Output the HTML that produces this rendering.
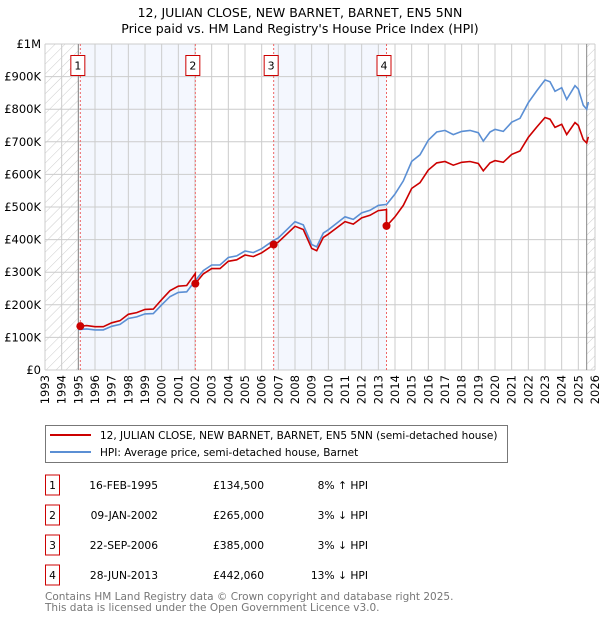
<!DOCTYPE html>
<html><head><meta charset="utf-8"><style>
body{margin:0;background:#fff;font-family:"DejaVu Sans","Liberation Sans",sans-serif;}
svg{display:block}
</style></head><body>
<svg id="c" width="600" height="620" font-family="DejaVu Sans, Liberation Sans, sans-serif">
<defs><pattern id="hatch" width="7" height="7" patternUnits="userSpaceOnUse" patternTransform="rotate(45)"><line x1="0" y1="0" x2="0" y2="7" stroke="#ccc" stroke-width="1"/></pattern></defs>
<text x="300" y="17" text-anchor="middle" font-size="12.5">12, JULIAN CLOSE, NEW BARNET, BARNET, EN5 5NN</text>
<text x="300" y="33" text-anchor="middle" font-size="12.5">Price paid vs. HM Land Registry's House Price Index (HPI)</text>
<g id="plot"></g>
<g>
<rect x="45.5" y="425.5" width="462" height="37" fill="#fff" stroke="#777"/>
<line x1="50" y1="435" x2="91" y2="435" stroke="#cc0000" stroke-width="2"/>
<text x="100" y="439" font-size="10.5">12, JULIAN CLOSE, NEW BARNET, BARNET, EN5 5NN (semi-detached house)</text>
<line x1="50" y1="452" x2="91" y2="452" stroke="#5b8fd4" stroke-width="2"/>
<text x="100" y="456" font-size="10.5">HPI: Average price, semi-detached house, Barnet</text>
</g>
<g id="table" font-size="10.7"></g>
<text x="45" y="600" font-size="10.5" fill="#777">Contains HM Land Registry data © Crown copyright and database right 2025.</text>
<text x="45" y="611" font-size="10.5" fill="#777">This data is licensed under the Open Government Licence v3.0.</text>
</svg>
<script>
const hpiYears=[1995.0,1995.5,1996.0,1996.5,1997.0,1997.5,1998.0,1998.5,1999.0,1999.5,2000.0,2000.5,2001.0,2001.5,2002.0,2002.5,2003.0,2003.5,2004.0,2004.5,2005.0,2005.5,2006.0,2006.7,2007.0,2007.5,2008.0,2008.5,2009.0,2009.3,2009.7,2010.0,2010.5,2011.0,2011.5,2012.0,2012.5,2013.0,2013.5,2014.0,2014.5,2015.0,2015.5,2016.0,2016.5,2017.0,2017.5,2018.0,2018.5,2019.0,2019.3,2019.7,2020.0,2020.5,2021.0,2021.5,2022.0,2022.5,2023.0,2023.3,2023.6,2024.0,2024.3,2024.8,2025.0,2025.3,2025.5,2025.6];
const hpiValues=[124,126,123,123,134,140,158,163,172,173,200,225,238,240,273,305,322,322,345,350,365,360,372,397,405,430,455,445,385,378,420,430,450,470,462,482,490,505,508,540,580,640,660,705,730,735,722,732,735,728,702,730,738,732,760,772,820,856,890,884,855,866,830,872,862,812,800,822];
const saleYears=[1995.12,2002.02,2006.72,2013.49];
const salePrices=[134500,265000,385000,442060];
const saleLabels=["1","2","3","4"];
const saleDates=["16-FEB-1995","09-JAN-2002","22-SEP-2006","28-JUN-2013"];
const salePriceText=["£134,500","£265,000","£385,000","£442,060"];
const saleHpiText=["8% ↑ HPI","3% ↓ HPI","3% ↓ HPI","13% ↓ HPI"];
const yTicks=[0,100,200,300,400,500,600,700,800,900,1000];
const yTickLabels=["£0","£100K","£200K","£300K","£400K","£500K","£600K","£700K","£800K","£900K","£1M"];
const xYears=[1993,1994,1995,1996,1997,1998,1999,2000,2001,2002,2003,2004,2005,2006,2007,2008,2009,2010,2011,2012,2013,2014,2015,2016,2017,2018,2019,2020,2021,2022,2023,2024,2025,2026];

const X0=45,X1=595,Y0=370,Y1=44;
const sx=y=>X0+(y-1993)/33*(X1-X0);
const sy=v=>Y0-v/1000*(Y0-Y1);
const NS="http://www.w3.org/2000/svg";
const plot=document.getElementById('plot');
function mk(tag,attrs,parent){const e=document.createElementNS(NS,tag);for(const k in attrs)e.setAttribute(k,attrs[k]);(parent||plot).appendChild(e);return e;}
function hpiAt(t){for(let i=0;i<hpiYears.length-1;i++){if(t<=hpiYears[i+1]){const f=(t-hpiYears[i])/(hpiYears[i+1]-hpiYears[i]);return hpiValues[i]+f*(hpiValues[i+1]-hpiValues[i]);}}return hpiValues[hpiValues.length-1];}

let r;
r=mk('rect',{x:sx(saleYears[0]),y:Y1,width:sx(saleYears[1])-sx(saleYears[0]),height:Y0-Y1,fill:'#f4f7fe'});

r=mk('rect',{x:sx(saleYears[2]),y:Y1,width:sx(saleYears[3])-sx(saleYears[2]),height:Y0-Y1,fill:'#f4f7fe'});

r=mk('rect',{x:X0,y:Y1,width:sx(1995)-X0,height:Y0-Y1,fill:'url(#hatch)'});

r=mk('rect',{x:sx(2025.5),y:Y1,width:X1-sx(2025.5),height:Y0-Y1,fill:'url(#hatch)'});

yTicks.forEach((v,i)=>{const l=mk('line',{x1:X0,x2:X1,y1:sy(v),y2:sy(v),stroke:'#ccc'});

const t=mk('text',{x:X0-4,y:sy(v)+4,'text-anchor':'end','font-size':'11.5'});t.textContent=yTickLabels[i];
});
xYears.forEach(y=>{const l=mk('line',{x1:sx(y),x2:sx(y),y1:Y1,y2:Y0,stroke:'#ccc'});

const t=mk('text',{x:0,y:0,'text-anchor':'end','font-size':'11.5',transform:`translate(${sx(y)+4},${Y0+5}) rotate(-90)`});t.textContent=y;
});
let l=mk('line',{x1:sx(1995),x2:sx(1995),y1:Y1,y2:Y0,stroke:'#888'});

l=mk('line',{x1:sx(2025.5),x2:sx(2025.5),y1:Y1,y2:Y0,stroke:'#888'});

saleYears.forEach((s,i)=>{const d=mk('line',{x1:sx(s),x2:sx(s),y1:Y1,y2:Y0,stroke:'#e66','stroke-dasharray':'2,2'});

const b=mk('rect',{x:sx(s)-9.5,y:55.5,width:14,height:20,fill:'#fff',stroke:'#c00'});

const t=mk('text',{x:sx(s)-2.5,y:69.5,'text-anchor':'middle','font-size':'11'});t.textContent=saleLabels[i];
});
let p='';hpiYears.forEach((y,i)=>{p+=(i?'L':'M')+sx(y).toFixed(1)+','+sy(hpiValues[i]).toFixed(1);});
const hl=mk('path',{d:p,fill:'none',stroke:'#5b8fd4','stroke-width':'1.6'});

let pts=[];
for(let k=0;k<saleYears.length;k++){const ratio=salePrices[k]/1000/hpiAt(saleYears[k]);const end=k<saleYears.length-1?saleYears[k+1]:2025.6;
pts.push([saleYears[k],salePrices[k]/1000]);
hpiYears.forEach((y,i)=>{if(y>saleYears[k]&&y<end)pts.push([y,hpiValues[i]*ratio]);});
pts.push([end,hpiAt(end)*ratio]);}
p='';pts.forEach((q,i)=>{p+=(i?'L':'M')+sx(q[0]).toFixed(1)+','+sy(q[1]).toFixed(1);});
const pl=mk('path',{d:p,fill:'none',stroke:'#cc0000','stroke-width':'1.6'});

saleYears.forEach((s,i)=>{const c=mk('circle',{cx:sx(s),cy:sy(salePrices[i]/1000),r:4,fill:'#cc0000'});
});
const tb=document.getElementById('table');
saleLabels.forEach((lab,i)=>{const y=485+i*30;
const b=mk('rect',{x:45.5,y:y-10,width:14,height:20,fill:'#fff',stroke:'#c00'},tb);

let t=mk('text',{x:52.5,y:y+4,'text-anchor':'middle'},tb);t.textContent=lab;

t=mk('text',{x:158,y:y+4,'text-anchor':'end'},tb);t.textContent=saleDates[i];

t=mk('text',{x:264,y:y+4,'text-anchor':'end'},tb);t.textContent=salePriceText[i];

t=mk('text',{x:368,y:y+4,'text-anchor':'end'},tb);t.textContent=saleHpiText[i];
});
</script>
</body></html>
